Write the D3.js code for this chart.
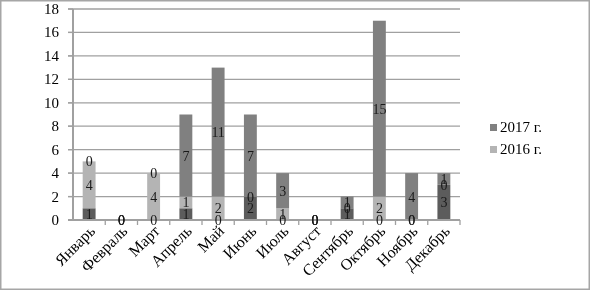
<!DOCTYPE html>
<html>
<head>
<meta charset="utf-8">
<script src="https://cdn.jsdelivr.net/npm/d3@7"></script>
<style>
  body { margin: 0; background: #fff; }
  svg { filter: grayscale(1); }
  text { font-family: "Liberation Serif", "Times New Roman", serif; }
</style>
</head>
<body>
<div id="chart-area"></div>
<script>
const months = ["Январь", "Февраль", "Март", "Апрель", "Май", "Июнь", "Июль", "Август", "Сентябрь", "Октябрь", "Ноябрь", "Декабрь"];
// bottom series (no legend entry), then 2016 г., then 2017 г.
const seriesBase = [1, 0, 0, 1, 0, 2, 0, 0, 1, 0, 0, 3];
const series2016 = [4, 0, 4, 1, 2, 0, 1, 0, 0, 2, 0, 0];
const series2017 = [0, 0, 0, 7, 11, 7, 3, 0, 1, 15, 4, 1];
const yTicks = [0, 2, 4, 6, 8, 10, 12, 14, 16, 18];
const legendLabels = ["2017 г.", "2016 г."];

const width = 591, height = 291;
const margin = {top: 9, right: 131, bottom: 71, left: 73};

var svg = d3.select("#chart-area").append("svg")
	.attr("width", width)
	.attr("height", height);

svg.append("rect")
	.attr("x", 0.75).attr("y", 0.75)
	.attr("width", width - 2.5).attr("height", height - 2.5)
	.attr("fill", "#fff")
	.attr("stroke", "#a6a6a6")
	.attr("stroke-width", 1.5);

var x = d3.scaleBand()
	.domain(months)
	.range([margin.left, width - margin.right])
	.paddingInner(0.6)
	.paddingOuter(0.3);

var xStep = d3.scaleBand()
	.domain(months)
	.range([margin.left, width - margin.right]);

var y = d3.scaleLinear()
	.domain([0, 18])
	.range([height - margin.bottom, margin.top]);

// gridlines
svg.selectAll(".grid")
	.data(yTicks.slice(1))
	.enter().append("line")
	.attr("class", "grid")
	.attr("x1", margin.left - 5)
	.attr("x2", width - margin.right)
	.attr("y1", d => y(d))
	.attr("y2", d => y(d))
	.attr("stroke", "#a0a0a0")
	.attr("stroke-width", 1.3);

// y labels
svg.selectAll(".ylab")
	.data(yTicks)
	.enter().append("text")
	.attr("class", "ylab")
	.attr("x", margin.left - 14)
	.attr("y", d => y(d) + 5)
	.attr("text-anchor", "end")
	.attr("font-size", 15)
	.attr("fill", "#000")
	.text(d => d);

var stackData = months.map((m, i) => ({month: m, base: seriesBase[i], y2016: series2016[i], y2017: series2017[i]}));
var keys = ["base", "y2016", "y2017"];
var colors = {base: "#5c5c5c", y2016: "#b4b4b4", y2017: "#808080"};
var stacked = d3.stack().keys(keys)(stackData);

stacked.forEach(function(layer) {
	svg.selectAll(".bar-" + layer.key)
		.data(layer)
		.enter().append("rect")
		.attr("class", "bar-" + layer.key)
		.attr("x", d => x(d.data.month))
		.attr("y", d => y(d[1]))
		.attr("width", x.bandwidth())
		.attr("height", d => y(d[0]) - y(d[1]))
		.attr("fill", colors[layer.key]);
});

// axes lines
svg.append("line")
	.attr("x1", margin.left).attr("x2", margin.left)
	.attr("y1", y(18)).attr("y2", y(0))
	.attr("stroke", "#a0a0a0").attr("stroke-width", 2);

svg.selectAll(".ytick")
	.data(yTicks)
	.enter().append("line")
	.attr("class", "ytick")
	.attr("x1", margin.left - 5).attr("x2", margin.left)
	.attr("y1", d => y(d)).attr("y2", d => y(d))
	.attr("stroke", "#a0a0a0").attr("stroke-width", 1.3);

svg.append("line")
	.attr("x1", margin.left - 5).attr("x2", width - margin.right)
	.attr("y1", y(0)).attr("y2", y(0))
	.attr("stroke", "#a0a0a0").attr("stroke-width", 2);

svg.selectAll(".xtick")
	.data(months)
	.enter().append("line")
	.attr("class", "xtick")
	.attr("x1", d => xStep(d) + xStep.bandwidth())
	.attr("x2", d => xStep(d) + xStep.bandwidth())
	.attr("y1", y(0)).attr("y2", y(0) + 5)
	.attr("stroke", "#a0a0a0").attr("stroke-width", 1.3);

// data labels
stacked.forEach(function(layer) {
	svg.selectAll(".lab-" + layer.key)
		.data(layer)
		.enter().append("text")
		.attr("class", "lab-" + layer.key)
		.attr("x", d => x(d.data.month) + x.bandwidth() / 2)
		.attr("y", d => y((d[0] + d[1]) / 2) + 5)
		.attr("text-anchor", "middle")
		.attr("font-size", 14)
		.attr("fill", "#1a1a1a")
		.text(d => d[1] - d[0]);
});

// x labels
svg.selectAll(".xlab")
	.data(months)
	.enter().append("text")
	.attr("class", "xlab")
	.attr("transform", d => `translate(${x(d) + x.bandwidth() / 2 + 7},${y(0) + 12}) rotate(-45)`)
	.attr("text-anchor", "end")
	.attr("font-size", 16)
	.attr("fill", "#000")
	.text(d => d);

// legend
var legend = svg.selectAll(".legend")
	.data(legendLabels)
	.enter().append("g")
	.attr("class", "legend")
	.attr("transform", (d, i) => `translate(490,${124 + i * 22})`);

legend.append("rect")
	.attr("width", 7).attr("height", 7)
	.attr("fill", (d, i) => i === 0 ? colors.y2017 : colors.y2016);

legend.append("text")
	.attr("x", 10).attr("y", 8)
	.attr("font-size", 15)
	.attr("fill", "#000")
	.text(d => d);
</script>
</body>
</html>
